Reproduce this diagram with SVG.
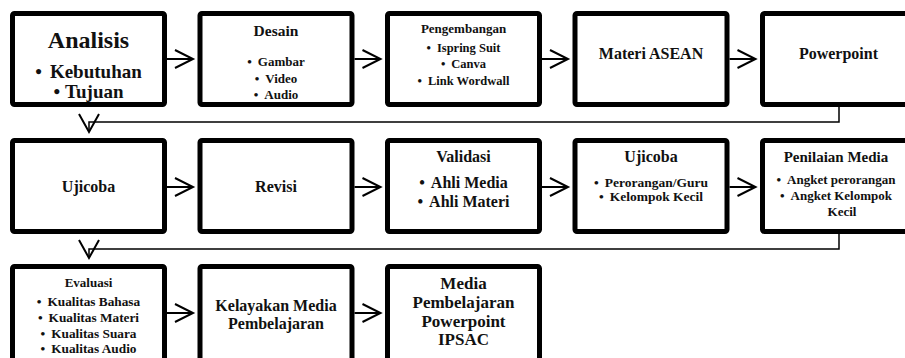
<svg xmlns="http://www.w3.org/2000/svg" width="905" height="358" viewBox="0 0 905 358">
<defs>
<style>
.box{fill:#fff;stroke:#000;stroke-width:5}
.t{font-family:"Liberation Serif","Times New Roman",serif;font-weight:bold;fill:#111;text-anchor:middle}
.ln{fill:none;stroke:#000;stroke-width:2}
.el{fill:none;stroke:#000;stroke-width:1.5}
</style>
</defs>
<rect width="905" height="358" fill="#fff"/>
<g id="connectors">
<path class="ln" d="M167,59H193M175,50L193,59L175,68"/>
<path class="ln" d="M354.5,59H380.5M362.5,50L380.5,59L362.5,68"/>
<path class="ln" d="M542,59H568M550,50L568,59L550,68"/>
<path class="ln" d="M729.5,59H755.5M737.5,50L755.5,59L737.5,68"/>
<path class="el" d="M839,107V122H89V132"/>
<path class="ln" d="M79,114L89,132L99,114"/>
<path class="ln" d="M167,187H193M175,178L193,187L175,196"/>
<path class="ln" d="M354.5,187H380.5M362.5,178L380.5,187L362.5,196"/>
<path class="ln" d="M542,187H568M550,178L568,187L550,196"/>
<path class="ln" d="M729.5,187H755.5M737.5,178L755.5,187L737.5,196"/>
<path class="el" d="M839,234V249H89V258"/>
<path class="ln" d="M79,240L89,258L99,240"/>
<path class="ln" d="M167,313H193M175,304L193,313L175,322"/>
<path class="ln" d="M354.5,313H380.5M362.5,304L380.5,313L362.5,322"/>
</g>
<g id="analisis">
<rect class="box" x="12.5" y="13.5" width="152" height="91" rx="2"/>
<text class="t" x="88.5" y="48" font-size="24">Analisis</text>
<text class="t" x="88.5" y="78" font-size="19"><tspan>•</tspan><tspan dx="8">Kebutuhan</tspan></text>
<text class="t" x="88.5" y="98" font-size="19"><tspan>•</tspan><tspan dx="5">Tujuan</tspan></text>
</g>
<g id="desain">
<rect class="box" x="200" y="13.5" width="152" height="91" rx="2"/>
<text class="t" x="276" y="36" font-size="15.5">Desain</text>
<text class="t" x="276" y="66" font-size="13"><tspan>•</tspan><tspan dx="6">Gambar</tspan></text>
<text class="t" x="276" y="82.5" font-size="13"><tspan>•</tspan><tspan dx="6">Video</tspan></text>
<text class="t" x="276" y="99" font-size="13"><tspan>•</tspan><tspan dx="6">Audio</tspan></text>
</g>
<g id="pengembangan">
<rect class="box" x="387.5" y="13.5" width="152" height="91" rx="2"/>
<text class="t" x="463.5" y="33" font-size="13">Pengembangan</text>
<text class="t" x="463.5" y="52" font-size="12.5"><tspan>•</tspan><tspan dx="6">Ispring Suit</tspan></text>
<text class="t" x="463.5" y="68" font-size="12.5"><tspan>•</tspan><tspan dx="6">Canva</tspan></text>
<text class="t" x="463.5" y="85" font-size="12.5"><tspan>•</tspan><tspan dx="6">Link Wordwall</tspan></text>
</g>
<g id="materi-asean">
<rect class="box" x="575" y="13.5" width="152" height="91" rx="2"/>
<text class="t" x="651" y="59" font-size="16">Materi ASEAN</text>
</g>
<g id="powerpoint">
<rect class="box" x="762.5" y="13.5" width="152" height="91" rx="2"/>
<text class="t" x="838.5" y="59" font-size="16">Powerpoint</text>
</g>
<g id="ujicoba1">
<rect class="box" x="12.5" y="140.5" width="152" height="91" rx="2"/>
<text class="t" x="88.5" y="192" font-size="16">Ujicoba</text>
</g>
<g id="revisi">
<rect class="box" x="200" y="140.5" width="152" height="91" rx="2"/>
<text class="t" x="276" y="192" font-size="16">Revisi</text>
</g>
<g id="validasi">
<rect class="box" x="387.5" y="140.5" width="152" height="91" rx="2"/>
<text class="t" x="463.5" y="162" font-size="16">Validasi</text>
<text class="t" x="463.5" y="188" font-size="16"><tspan>•</tspan><tspan dx="6">Ahli Media</tspan></text>
<text class="t" x="463.5" y="207" font-size="16"><tspan>•</tspan><tspan dx="6">Ahli Materi</tspan></text>
</g>
<g id="ujicoba2">
<rect class="box" x="575" y="140.5" width="152" height="91" rx="2"/>
<text class="t" x="651" y="162" font-size="16">Ujicoba</text>
<text class="t" x="651" y="187" font-size="13.5"><tspan>•</tspan><tspan dx="6">Perorangan/Guru</tspan></text>
<text class="t" x="651" y="201" font-size="13.5"><tspan>•</tspan><tspan dx="6">Kelompok Kecil</tspan></text>
</g>
<g id="penilaian-media">
<rect class="box" x="762.5" y="140.5" width="152" height="91" rx="2"/>
<text class="t" x="836" y="162" font-size="15">Penilaian Media</text>
<text class="t" x="836" y="184" font-size="13"><tspan>•</tspan><tspan dx="6">Angket perorangan</tspan></text>
<text class="t" x="836" y="200" font-size="13"><tspan>•</tspan><tspan dx="6">Angket Kelompok</tspan></text>
<text class="t" x="842" y="216" font-size="13">Kecil</text>
</g>
<g id="evaluasi">
<rect class="box" x="12.5" y="266.5" width="152" height="95" rx="2"/>
<text class="t" x="88.5" y="287" font-size="13">Evaluasi</text>
<text class="t" x="88.5" y="306" font-size="13.3"><tspan>•</tspan><tspan dx="6">Kualitas Bahasa</tspan></text>
<text class="t" x="88.5" y="322" font-size="13.3"><tspan>•</tspan><tspan dx="6">Kualitas Materi</tspan></text>
<text class="t" x="88.5" y="338" font-size="13.3"><tspan>•</tspan><tspan dx="6">Kualitas Suara</tspan></text>
<text class="t" x="88.5" y="353" font-size="13.3"><tspan>•</tspan><tspan dx="6">Kualitas Audio</tspan></text>
</g>
<g id="kelayakan">
<rect class="box" x="200" y="266.5" width="152" height="95" rx="2"/>
<text class="t" x="276" y="311" font-size="16">Kelayakan Media</text>
<text class="t" x="276" y="329" font-size="16">Pembelajaran</text>
</g>
<g id="media-ipsac">
<rect class="box" x="387.5" y="266.5" width="152" height="95" rx="2"/>
<text class="t" x="463.5" y="289" font-size="17">Media</text>
<text class="t" x="463.5" y="308" font-size="17">Pembelajaran</text>
<text class="t" x="463.5" y="327" font-size="17">Powerpoint</text>
<text class="t" x="463.5" y="345" font-size="17">IPSAC</text>
</g>
</svg>
